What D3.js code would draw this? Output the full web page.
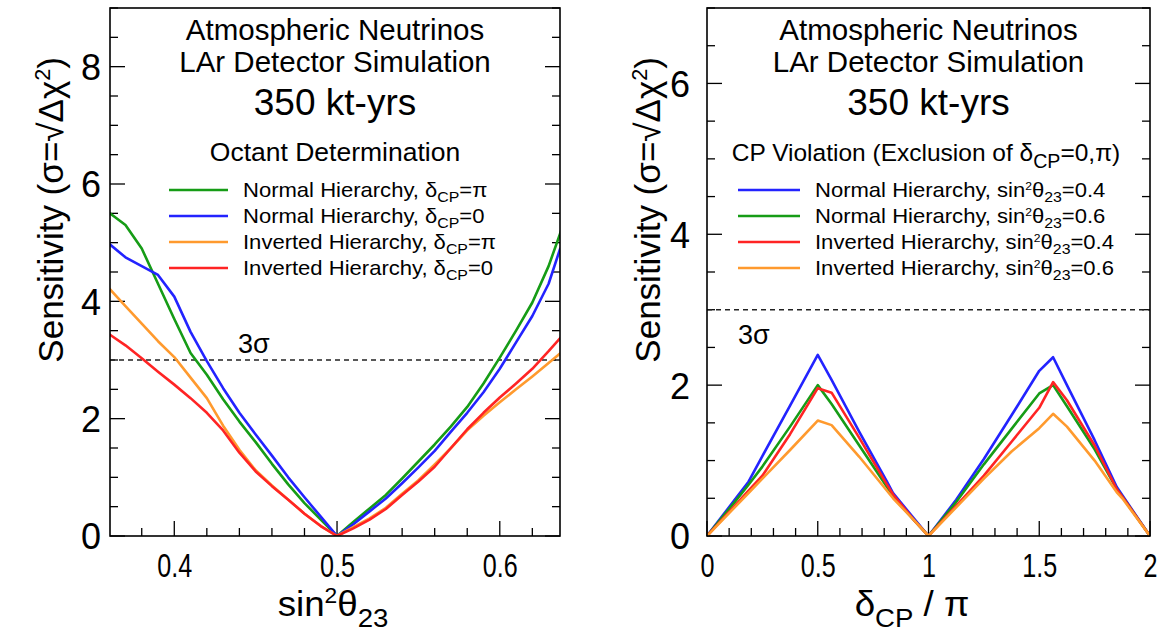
<!DOCTYPE html>
<html><head><meta charset="utf-8">
<script src="https://cdn.jsdelivr.net/npm/d3@7"></script>
<style>
body{margin:0;background:#fff;}
svg text{font-family:"Liberation Sans",Arial,sans-serif;fill:#000;}
</style></head>
<body><svg id="c" width="1163" height="635"></svg>
<script>
// ---------- data: left panel (octant determination) ----------
const sin2Grid = [0.36,0.37,0.38,0.39,0.40,0.41,0.42,0.43,0.44,0.45,0.46,0.47,0.48,0.49,0.50,0.51,0.52,0.53,0.54,0.55,0.56,0.57,0.58,0.59,0.60,0.61,0.62,0.63,0.637,0.64];
const octNHpi  = [5.51,5.30,4.90,4.30,3.70,3.12,2.75,2.33,1.95,1.60,1.23,0.88,0.56,0.28,0.00,0.24,0.47,0.70,0.98,1.27,1.56,1.87,2.20,2.60,3.04,3.50,3.98,4.60,5.15,5.40];
const octNH0   = [4.98,4.75,4.60,4.45,4.08,3.48,2.98,2.52,2.10,1.73,1.37,1.00,0.66,0.33,0.00,0.20,0.42,0.64,0.90,1.17,1.45,1.78,2.10,2.45,2.85,3.30,3.75,4.30,4.89,5.00];
const octIHpi  = [4.22,3.92,3.62,3.32,3.05,2.70,2.35,1.88,1.47,1.12,0.86,0.62,0.38,0.17,0.00,0.15,0.30,0.48,0.72,0.95,1.22,1.50,1.80,2.05,2.28,2.50,2.72,2.95,3.11,3.15];
const octIH0   = [3.44,3.25,3.03,2.80,2.58,2.35,2.10,1.80,1.42,1.10,0.85,0.62,0.38,0.17,0.00,0.13,0.28,0.46,0.70,0.93,1.18,1.50,1.82,2.10,2.36,2.60,2.85,3.15,3.37,3.45];
const leftXTicks = [0.4,0.5,0.6];
const leftYTicks = [0,2,4,6,8];

// ---------- data: right panel (CP violation) ----------
const deltaGrid = [0,0.125,0.1875,0.25,0.375,0.5,0.5625,0.6875,0.8125,0.84,0.9375,1,1.125,1.25,1.375,1.5,1.5625,1.625,1.75,1.85,1.875,2];
const cpNH04 = [0,0.48,0.72,1.06,1.73,2.40,2.07,1.38,0.72,0.57,0.22,0,0.48,1.02,1.60,2.19,2.37,2.00,1.27,0.65,0.54,0];
const cpNH06 = [0,0.45,0.68,0.92,1.45,2.00,1.75,1.20,0.65,0.52,0.20,0,0.45,0.95,1.42,1.89,2.00,1.72,1.15,0.62,0.52,0];
const cpIH04 = [0,0.40,0.60,0.80,1.35,1.96,1.90,1.30,0.68,0.55,0.20,0,0.40,0.80,1.25,1.70,2.04,1.80,1.20,0.62,0.52,0];
const cpIH06 = [0,0.38,0.57,0.76,1.14,1.53,1.47,1.05,0.60,0.50,0.20,0,0.38,0.76,1.12,1.43,1.62,1.45,1.00,0.58,0.50,0];
const rightXTicks = [0,0.5,1,1.5,2];
const rightYTicks = [0,2,4,6];

const colGreen="#169c16", colBlue="#2323ff", colOrange="#ff9a2e", colRed="#ff2424";

const svg = d3.select("#c");

// text with sub/superscripts; optional horizontal scale sx
function rich(g, x, y, parts, size, anchor, sx, subScale, supScale, subShift, supShift){
  const holder = g.append("g").attr("transform",`translate(${x},${y}) scale(${sx||1},1)`);
  const t = holder.append("text").attr("x",0).attr("y",0).attr("font-size",size).attr("text-anchor",anchor||"start");
  let shift=0;
  parts.forEach(p=>{
    const s = typeof p==="string"?{t:p}:p;
    const ts = t.append("tspan").text(s.t);
    let target = 0, fs=size;
    if(s.sub){target=size*(subShift||0.3); fs=size*(subScale||0.72);}
    if(s.sup){target=-size*(supShift||0.38); fs=size*(supScale||0.62);}
    ts.attr("font-size",fs).attr("dy",target-shift);
    shift=target;
  });
  return holder;
}

function panel(opt){
  const g = svg.append("g");
  const x = d3.scaleLinear().domain(opt.xDomain).range([opt.x0,opt.x1]);
  const y = d3.scaleLinear().domain(opt.yDomain).range([opt.y1,opt.y0]);
  const clipId = "clip"+opt.id;
  svg.append("clipPath").attr("id",clipId).append("rect")
    .attr("x",opt.x0).attr("y",opt.y0).attr("width",opt.x1-opt.x0).attr("height",opt.y1-opt.y0);

  const xMinor = d3.range(Math.ceil(opt.xDomain[0]/opt.xMinorStep-1e-6), Math.floor(opt.xDomain[1]/opt.xMinorStep+1e-6)+1).map(i=>+(i*opt.xMinorStep).toFixed(4));
  const xMajor = opt.xTicks;
  const yMinor = d3.range(0, Math.floor(opt.yDomain[1]/0.5+1e-6)+1).map(i=>i*0.5);
  const tk = g.append("g").attr("stroke","#000").attr("stroke-width",1.3);
  xMinor.forEach(v=>{
    const major = xMajor.some(m=>Math.abs(m-v)<1e-6);
    const len = major?15:8;
    tk.append("line").attr("x1",x(v)).attr("x2",x(v)).attr("y1",opt.y1).attr("y2",opt.y1-len);
  });
  yMinor.forEach(v=>{
    const major = Math.abs(v-Math.round(v))<1e-6 && Math.round(v)%2===0;
    const len = major?15:8;
    tk.append("line").attr("x1",opt.x0).attr("x2",opt.x0+len).attr("y1",y(v)).attr("y2",y(v));
    tk.append("line").attr("x1",opt.x1).attr("x2",opt.x1-len).attr("y1",y(v)).attr("y2",y(v));
  });

  // axis tick labels through d3 axes
  const xa = g.append("g").attr("transform",`translate(0,${opt.y1})`)
    .call(d3.axisBottom(x).tickValues(xMajor).tickSize(0).tickPadding(0).tickFormat(d3.format("")));
  xa.select(".domain").remove();
  xa.selectAll(".tick line").remove();
  xa.selectAll("text").attr("font-size",34).attr("y",0).attr("dy",0).attr("fill","#000")
    .attr("transform","translate(0,41) scale(0.74,1)");
  const ya = g.append("g").attr("transform",`translate(${opt.x0},0)`)
    .call(d3.axisLeft(y).tickValues(opt.yTicks).tickSize(0).tickPadding(0).tickFormat(d3.format("d")));
  ya.select(".domain").remove();
  ya.selectAll(".tick line").remove();
  ya.selectAll("text").attr("font-size",36).attr("x",0).attr("dy","0.36em").attr("fill","#000")
    .attr("transform",`translate(${-opt.yLabPad},0)`);

  // 3 sigma line
  g.append("line").attr("x1",opt.x0).attr("x2",opt.x1).attr("y1",y(3)).attr("y2",y(3))
    .attr("stroke","#222").attr("stroke-width",1.5).attr("stroke-dasharray","5,4");
  g.append("text").attr("x",opt.sigX).attr("y",opt.sigY).attr("font-size",27).attr("fill","#333").text("3σ");

  // curves
  const line = d3.line().x(d=>x(d[0])).y(d=>y(d[1]));
  const cg = g.append("g").attr("clip-path",`url(#${clipId})`);
  opt.series.forEach(s=>{
    cg.append("path").datum(opt.grid.map((v,i)=>[v,s.values[i]]))
      .attr("d",line).attr("fill","none").attr("stroke",s.color).attr("stroke-width",2.6).attr("stroke-linejoin","round");
  });

  // frame
  g.append("rect").attr("x",opt.x0).attr("y",opt.y0).attr("width",opt.x1-opt.x0).attr("height",opt.y1-opt.y0)
    .attr("fill","none").attr("stroke","#000").attr("stroke-width",1.6);

  // titles
  const cx = (opt.x0+opt.x1)/2;
  g.append("text").attr("x",cx).attr("y",40).attr("text-anchor","middle").attr("font-size",29.5).text("Atmospheric Neutrinos");
  g.append("text").attr("x",cx).attr("y",72).attr("text-anchor","middle").attr("font-size",29.5).text("LAr Detector Simulation");
  g.append("text").attr("x",cx).attr("y",115).attr("text-anchor","middle").attr("font-size",37).text("350 kt-yrs");
  rich(g, opt.headerX, 161, opt.header, opt.headerSize, "middle", 1, 0.8);

  // legend
  opt.series.forEach((s,i)=>{
    const ly = opt.legY + i*26;
    g.append("line").attr("x1",opt.legX0).attr("x2",opt.legX1).attr("y1",ly).attr("y2",ly)
      .attr("stroke",s.color).attr("stroke-width",2.6);
    rich(g, opt.legTx, ly+7, s.label, opt.legSize, "start", opt.legSx, 0.72, 0.55, 0.25, 0.33);
  });

  // axis titles
  rich(g, opt.xTitleX, 616, opt.xTitle, 35, "middle", 1.05, 0.75);
  const yt = g.append("g").attr("transform",`translate(${opt.yTitleX},57) rotate(-90)`);
  rich(yt, 0, 0, ["Sensitivity (σ=√Δχ",{t:"2",sup:true},{t:")"}], 35, "end");
}

panel({
  id:"L", x0:110, x1:560, y0:8, y1:536,
  xDomain:[0.3605,0.637], yDomain:[0,9], xMinorStep:0.02, xTicks:leftXTicks, yTicks:leftYTicks,
  grid:sin2Grid, yLabPad:9,
  series:[
    {values:octNHpi,color:colGreen,label:["Normal Hierarchy, δ",{t:"CP",sub:true},{t:"=π"}]},
    {values:octNH0,color:colBlue,label:["Normal Hierarchy, δ",{t:"CP",sub:true},{t:"=0"}]},
    {values:octIHpi,color:colOrange,label:["Inverted Hierarchy, δ",{t:"CP",sub:true},{t:"=π"}]},
    {values:octIH0,color:colRed,label:["Inverted Hierarchy, δ",{t:"CP",sub:true},{t:"=0"}]}
  ],
  header:["Octant Determination"], headerX:335, headerSize:26.5, legSize:21, legSx:1.05,
  legY:190, legX0:169, legX1:228, legTx:243,
  sigX:238, sigY:353,
  xTitle:["sin",{t:"2",sup:true},{t:"θ"},{t:"23",sub:true}], xTitleX:333,
  yTitleX:63
});

panel({
  id:"R", x0:707, x1:1150, y0:8, y1:536,
  xDomain:[0,2], yDomain:[0,7], xMinorStep:0.1, xTicks:rightXTicks, yTicks:rightYTicks,
  grid:deltaGrid, yLabPad:17,
  series:[
    {values:cpNH04,color:colBlue,label:["Normal Hierarchy, sin",{t:"2",sup:true},{t:"θ"},{t:"23",sub:true},{t:"=0.4"}]},
    {values:cpNH06,color:colGreen,label:["Normal Hierarchy, sin",{t:"2",sup:true},{t:"θ"},{t:"23",sub:true},{t:"=0.6"}]},
    {values:cpIH04,color:colRed,label:["Inverted Hierarchy, sin",{t:"2",sup:true},{t:"θ"},{t:"23",sub:true},{t:"=0.4"}]},
    {values:cpIH06,color:colOrange,label:["Inverted Hierarchy, sin",{t:"2",sup:true},{t:"θ"},{t:"23",sub:true},{t:"=0.6"}]}
  ],
  header:["CP Violation (Exclusion of δ",{t:"CP",sub:true},{t:"=0,π)"}], headerX:926, headerSize:24.5, legSize:21, legSx:1.05,
  legY:190, legX0:738, legX1:800, legTx:815,
  sigX:738, sigY:344,
  xTitle:["δ",{t:"CP",sub:true},{t:" / π"}], xTitleX:912,
  yTitleX:660
});
</script></body></html>
